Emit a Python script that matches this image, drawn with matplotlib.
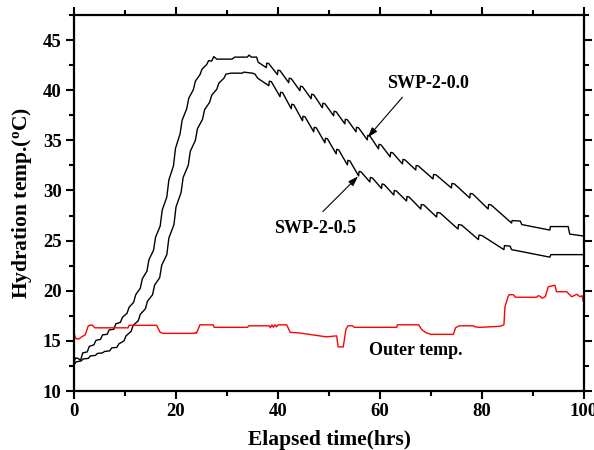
import matplotlib
matplotlib.use("Agg")
import matplotlib.pyplot as plt
from matplotlib.ticker import MultipleLocator

plt.rcParams['font.family'] = ['Liberation Serif', 'DejaVu Serif']
plt.rcParams['font.weight'] = 'bold'
plt.rcParams['mathtext.fontset'] = 'custom'
plt.rcParams['mathtext.rm'] = 'Liberation Serif:bold'
plt.rcParams['mathtext.it'] = 'Liberation Serif:bold'
plt.rcParams['mathtext.bf'] = 'Liberation Serif:bold'

# ---------------- data ----------------
swp00_t = [0.0, 0.3, 0.8, 1.3, 1.7, 2.6, 3.0, 3.9, 4.3, 5.2, 5.6, 6.5, 6.9, 7.8, 8.2, 9.1,
           9.5, 10.4, 10.8, 11.7, 12.1, 13.0, 13.4, 14.3, 14.7, 15.6, 16.0, 16.9, 17.3, 18.2,
           18.6, 19.5, 19.9, 20.8, 21.2, 22.1, 22.5, 23.4, 23.8, 24.7, 25.1, 26.0, 26.4, 27.0,
           27.4, 28.0, 31.0, 31.5, 34.0, 34.3, 34.8, 35.8, 36.1,
           37.7, 37.8, 38.2, 39.9, 40.0, 40.4, 42.1, 42.2, 42.6, 44.3, 44.4, 44.8,
           46.5, 46.6, 47.0, 48.7, 48.8, 49.2, 50.9, 51.0, 51.4, 53.1, 53.2, 53.6,
           55.3, 55.4, 55.8, 57.5, 57.6, 58.0, 59.7, 59.8, 60.2, 62.0, 62.1, 62.5,
           64.4, 64.5, 64.9, 67.0, 67.1, 67.5, 70.4, 70.5, 71.0, 74.0, 74.1, 74.6,
           77.6, 77.7, 78.2, 81.2, 81.3, 81.8, 85.8, 85.9, 87.5, 87.8, 93.3, 93.4,
           96.9, 97.2, 100.0]
swp00_T = [12.8, 13.3, 13.25, 13.05, 13.8, 13.9, 14.45, 14.6, 15.05, 15.15, 15.6, 15.65, 16.1, 16.15, 16.7, 16.85,
           17.35, 17.75, 18.35, 18.85, 19.6, 20.25, 21.2, 21.95, 23.1, 24.05, 25.35, 26.45, 28.05, 29.35,
           31.05, 32.45, 34.2, 35.65, 37.0, 38.15, 39.2, 40.05, 40.9, 41.55, 42.1, 42.55, 42.95, 42.9,
           43.35, 43.1, 43.1, 43.3, 43.3, 43.5, 43.3, 43.3, 42.8,
           42.25, 42.7, 42.65, 41.55, 42.0, 41.95, 40.75, 41.2, 41.15, 39.95, 40.4, 40.35,
           39.15, 39.6, 39.55, 38.25, 38.7, 38.65, 37.45, 37.9, 37.85, 36.65, 37.1, 37.05,
           35.85, 36.3, 36.25, 35.05, 35.5, 35.45, 34.15, 34.6, 34.55, 33.35, 33.8, 33.75,
           32.65, 33.1, 33.05, 32.05, 32.5, 32.45, 31.15, 31.6, 31.55, 30.25, 30.7, 30.65,
           29.25, 29.7, 29.65, 28.15, 28.6, 28.55, 26.75, 27.0, 26.95, 26.6, 26.05, 26.4,
           26.4, 25.65, 25.45]

swp05_t = [0.0, 0.4, 1.4, 1.8, 2.8, 3.2, 4.2, 4.6, 5.6, 6.0, 7.0, 7.4, 8.4, 8.8, 9.8,
           10.2, 11.2, 11.6, 12.6, 13.0, 14.0, 14.4, 15.4, 15.8, 16.8, 17.2, 18.2, 18.6, 19.6,
           20.0, 21.0, 21.4, 22.4, 22.8, 23.8, 24.2, 25.2, 25.6, 26.6, 27.0, 28.0, 28.4, 29.4,
           29.8, 30.8, 33.0, 33.3, 35.0, 35.5, 36.0,
           38.2, 38.3, 38.7, 40.4, 40.5, 40.9, 42.6, 42.7, 43.1, 44.8, 44.9, 45.3,
           47.0, 47.1, 47.5, 49.2, 49.3, 49.7, 51.4, 51.5, 51.9, 53.6, 53.7, 54.1,
           55.8, 55.9, 56.3, 58.0, 58.1, 58.5, 60.3, 60.4, 60.8, 62.7, 62.8, 63.2,
           65.2, 65.3, 65.7, 68.0, 68.1, 68.6, 71.1, 71.2, 71.8, 75.3, 75.4, 76.0,
           79.3, 79.4, 80.0, 84.3, 84.4, 85.5, 85.8, 93.3, 93.5, 100.0]
swp05_T = [12.6, 12.9, 13.0, 13.2, 13.25, 13.5, 13.55, 13.75, 13.8, 13.95, 14.0, 14.3, 14.35, 14.7, 15.0,
           15.5, 15.95, 16.55, 17.0, 17.65, 18.2, 18.95, 19.6, 20.55, 21.3, 22.55, 23.6, 25.25, 26.6,
           28.35, 29.8, 31.3, 32.5, 33.9, 35.0, 36.15, 37.1, 38.05, 38.8, 39.5, 40.1, 40.7, 41.2,
           41.6, 41.7, 41.7, 41.8, 41.7, 41.6, 41.2,
           40.45, 40.9, 40.85, 39.35, 39.8, 39.75, 38.15, 38.6, 38.55, 36.95, 37.4, 37.35,
           35.85, 36.3, 36.25, 34.75, 35.2, 35.15, 33.65, 34.1, 34.05, 32.55, 33.0, 32.95,
           31.45, 31.9, 31.85, 30.85, 31.3, 31.25, 30.2, 30.65, 30.6, 29.55, 30.0, 29.95,
           28.95, 29.4, 29.35, 28.15, 28.6, 28.55, 27.35, 27.8, 27.75, 26.15, 26.6, 26.55,
           25.1, 25.55, 25.5, 24.1, 24.5, 24.45, 24.1, 23.35, 23.6, 23.6]

outer_t = [0.0, 0.4, 1.0, 1.5, 2.2, 2.8, 3.5, 4.1, 10.6, 10.8, 16.2, 16.9, 17.5, 23.6, 23.8,
           24.0, 24.3, 24.7, 27.3, 27.5, 34.0, 34.3, 38.3, 38.5, 38.8, 39.1, 39.4, 39.7, 40.0,
           41.7, 42.4, 44.0, 49.5, 51.5, 51.8, 52.8, 53.3, 53.7, 54.6, 55.0, 63.3, 63.4, 67.6,
           68.2, 69.1, 70.0, 74.4, 74.8, 75.5, 78.4, 78.6, 79.6, 83.5, 84.3, 84.5, 85.1, 85.3,
           86.2, 86.5, 90.7, 91.0, 91.4, 91.8, 92.4, 93.0, 94.3, 94.6, 96.6, 97.2, 97.6, 98.0,
           98.6, 99.2, 99.6, 99.9, 100.0]
outer_T = [15.75, 15.2, 15.2, 15.4, 15.6, 16.5, 16.6, 16.3, 16.3, 16.55, 16.55, 15.85, 15.75, 15.75, 15.85,
           15.75, 16.1, 16.6, 16.6, 16.35, 16.35, 16.5, 16.5, 16.3, 16.6, 16.35, 16.6, 16.4, 16.6,
           16.6, 15.85, 15.8, 15.4, 15.5, 14.4, 14.4, 16.1, 16.5, 16.5, 16.35, 16.35, 16.6, 16.6,
           16.1, 15.8, 15.65, 15.65, 16.3, 16.5, 16.5, 16.4, 16.35, 16.45, 16.6, 18.4, 19.4, 19.6,
           19.6, 19.35, 19.35, 19.5, 19.45, 19.25, 19.4, 20.4, 20.55, 19.9, 19.9, 19.6, 19.4, 19.5,
           19.65, 19.4, 19.5, 18.9, 19.2]

x_ticks = [0, 20, 40, 60, 80, 100]
y_ticks = [10, 15, 20, 25, 30, 35, 40, 45]

# ---------------- figure ----------------
fig = plt.figure(figsize=(5.94, 4.5), dpi=100)
ax = fig.add_axes([74 / 594, 1 - 391 / 450, 510 / 594, 376 / 450])

ax.plot(swp00_t, swp00_T, color='black', lw=1.0)
ax.plot(swp05_t, swp05_T, color='black', lw=1.0)
ax.plot(outer_t, outer_T, color='red', lw=1.0)

ax.set_xlim(0, 100)
ax.set_ylim(10, 47.5)
ax.set_xticks(x_ticks)
ax.set_yticks(y_ticks)
ax.xaxis.set_minor_locator(MultipleLocator(10))
ax.yaxis.set_minor_locator(MultipleLocator(2.5))
ax.tick_params(which='both', direction='out', top=True, right=True, width=1.5,
               labelsize=13.5)
ax.tick_params(which='major', length=6, pad=3)
ax.tick_params(which='minor', length=3.5)
ax.tick_params(axis='x', which='both', labeltop=False)
ax.tick_params(axis='y', which='both', labelright=False)
for lab in ax.get_xticklabels() + ax.get_yticklabels():
    lab.set_fontweight('bold')
for s in ax.spines.values():
    s.set_linewidth(1.6)

ax.set_xlabel('Elapsed time(hrs)', fontsize=15.5, fontweight='bold', labelpad=7)
ax.set_ylabel('Hydration temp.($^{\\rm o}$C)', fontsize=15.5, fontweight='bold', labelpad=6)

arrow = dict(arrowstyle='-|>,head_length=0.6,head_width=0.2', color='black', lw=0.8,
             shrinkA=0, shrinkB=0)
ax.text(61.4, 40.7, 'SWP-2-0.0', fontsize=13, fontweight='bold', ha='left', va='center')
ax.annotate('', xy=(57.6, 35.3), xytext=(64.4, 39.3), arrowprops=arrow)
ax.text(47.25, 26.25, 'SWP-2-0.5', fontsize=13, fontweight='bold', ha='center', va='center')
ax.annotate('', xy=(55.7, 31.4), xytext=(48.8, 27.9), arrowprops=arrow)
ax.text(57.8, 14.0, 'Outer temp.', fontsize=13, fontweight='bold', ha='left', va='center')

fig.savefig('out.png', dpi=100)
